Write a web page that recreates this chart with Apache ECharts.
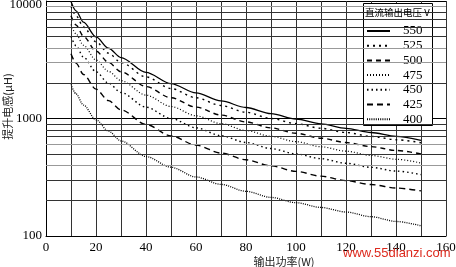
<!DOCTYPE html>
<html><head><meta charset="utf-8">
<script src="https://cdn.jsdelivr.net/npm/echarts@6/dist/echarts.min.js"></script>
<style>html,body{margin:0;padding:0;background:#fff}#c{width:456px;height:267px}</style>
</head><body><div id="c"></div>
<script>
// Data
const power = [10, 12, 15, 20, 25, 30, 40, 50, 60, 70, 80, 90, 100, 110, 120, 130, 140, 150];
const l550 = [9900, 8250, 6600, 4950, 3960, 3300, 2470, 1980, 1650, 1410, 1240, 1100, 990, 900, 825, 760, 705, 650];
const l525 = [9000, 7500, 6000, 4500, 3600, 3000, 2260, 1800, 1500, 1290, 1130, 1000, 905, 825, 760, 705, 660, 622];
const l500 = [7500, 6250, 5000, 3750, 3000, 2500, 1870, 1500, 1250, 1070, 935, 832, 748, 680, 624, 576, 535, 499];
const l475 = [6300, 5250, 4200, 3150, 2520, 2100, 1580, 1265, 1055, 905, 790, 705, 635, 575, 527, 485, 450, 418];
const l450 = [5000, 4160, 3330, 2500, 2000, 1665, 1250, 1000, 833, 714, 625, 555, 500, 455, 416, 384, 357, 333];
const l425 = [3550, 2960, 2370, 1780, 1420, 1185, 890, 712, 593, 508, 445, 395, 355, 323, 296, 274, 256, 242];
const l400 = [1950, 1620, 1300, 975, 780, 645, 475, 385, 318, 275, 240, 213, 192, 175, 160, 146, 133, 122];
const voltages = ['550', '525', '500', '475', '450', '425', '400'];
const yTicks = [100, 1000, 10000];
const gridDark = [200, 300, 500, 700, 800, 900, 2000, 5000, 6000, 7000, 8000];
const gridGrey = [400, 600, 3000, 4000, 9000];

const curves = [l550, l525, l500, l475, l450, l425, l400];
const dashes = ['solid', [2, 4], [5, 4], [1, 2], [1.5, 3], [6, 4], [1, 1.2]];
const widths = [1.3, 1.4, 1.4, 1.2, 1.4, 1.4, 1.3];

const serif = 'Liberation Serif';
const series = [{
  type: 'line', name: 'grid', data: [], silent: true, z: 1,
  markLine: {
    silent: true, symbol: ['none', 'none'], label: {show: false},
    animation: false,
    data: gridDark.map(v => ({yAxis: v, lineStyle: {color: '#333', width: 1, type: 'solid'}}))
      .concat(gridGrey.map(v => ({yAxis: v, lineStyle: {color: '#999', width: 1.2, type: 'solid'}})))
  }
}];
curves.forEach((arr, i) => {
  series.push({
    type: 'line', name: voltages[i], z: 2,
    data: power.map((p, k) => [p, arr[k]]),
    smooth: 0.3, smoothMonotone: 'x', symbol: 'none', showSymbol: false,
    lineStyle: {color: '#000', width: widths[i], type: dashes[i]},
    itemStyle: {color: '#000'}
  });
});

const chart = echarts.init(document.getElementById('c'));
chart.setOption({
  animation: false,
  backgroundColor: '#fff',
  grid: {left: 46, right: 10, top: 1, bottom: 31, containLabel: false, outerBoundsMode: 'none'},
  xAxis: {
    type: 'value', min: 0, max: 160, interval: 20,
    name: '输出功率(W)', nameLocation: 'middle', nameGap: 20, nameMoveOverlap: false,
    nameTextStyle: {fontFamily: 'Noto Sans CJK SC', fontSize: 11, color: '#222', padding: [0, 0, 0, 76]},
    axisLine: {show: true, lineStyle: {color: '#000', width: 1}},
    axisTick: {show: false},
    axisLabel: {fontFamily: serif, fontSize: 13, color: '#000', margin: 5},
    splitLine: {show: true, lineStyle: {color: '#333', width: 1}},
    minorTick: {show: false, splitNumber: 2},
    minorSplitLine: {show: true, lineStyle: {color: '#333', width: 1}}
  },
  yAxis: {
    type: 'log', logBase: 10, min: 100, max: 10000,
    name: '提升电感(μH)', nameLocation: 'middle', nameGap: 33, nameRotate: 90, nameMoveOverlap: false,
    nameTextStyle: {fontFamily: 'Noto Sans CJK SC', fontSize: 11, color: '#222', padding: [0, 0, 0, 24]},
    axisLine: {show: true, lineStyle: {color: '#000', width: 1}},
    axisTick: {show: false},
    axisLabel: {fontFamily: serif, fontSize: 13, color: '#000', margin: 4,
      formatter: v => {
        const r = Math.round(v);
        if (yTicks.indexOf(r) < 0) return '';
        return r === yTicks[yTicks.length - 1] ? '{t|' + r + '}' : String(r);
      },
      rich: {t: {fontFamily: serif, fontSize: 13, color: '#000', padding: [8, 0, 0, 0]}}
    },
    splitLine: {show: true, lineStyle: {color: '#000', width: 1}}
  },
  legend: {
    data: voltages, orient: 'vertical', left: 363, top: 3, z: 4,
    padding: [21, 0, 0, 3], itemGap: 0.7, itemWidth: 23, itemHeight: 14,
    selectedMode: false,
    itemStyle: {opacity: 0, borderWidth: 0},
    textStyle: {fontFamily: serif, fontSize: 13, color: '#000', lineHeight: 14, padding: [0, 0, 0, 8]}
  },
  graphic: [
    {type: 'rect', left: 363, top: 3, z: 3,
      shape: {width: 69, height: 122},
      style: {fill: '#fff', stroke: '#000', lineWidth: 1}},
    {type: 'text', left: 365, top: 8, z: 100,
      style: {text: '直流输出电压 V', font: '9.5px "Noto Sans CJK SC"', fill: '#000'}},
    {type: 'text', left: 343, top: 247, z: 100,
      style: {text: 'www.55dianzi.com', font: '13px "Liberation Sans"', fill: '#dd2a1e'}}
  ],
  series: series
});
</script></body></html>
